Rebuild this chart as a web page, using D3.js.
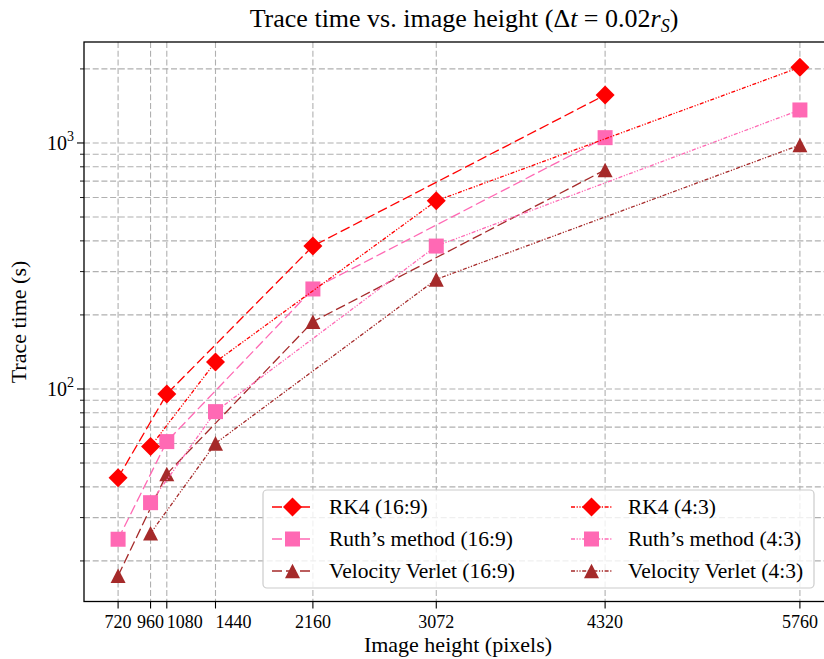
<!DOCTYPE html>
<html>
<head>
<meta charset="utf-8">
<script src="https://cdn.jsdelivr.net/npm/d3@7"></script>
<style>
  body { margin: 0; background: #fff; }
  svg { display: block; }
  text { font-family: "Liberation Serif", "DejaVu Serif", serif; fill: #000; }
</style>
</head>
<body>
<div id="chart"></div>
<script>
// image heights for the two aspect ratios
var heights169 = [720, 1080, 2160, 4320];
var heights43 = [960, 1440, 3072, 5760];

// trace times in seconds
var rk4_169 = [43.6, 95.4, 381, 1567];
var rk4_43 = [58.3, 128.8, 582, 2031];
var ruth_169 = [24.5, 61.1, 255, 1051];
var ruth_43 = [34.5, 80.9, 381, 1362];
var vv_169 = [17.4, 45.1, 187.7, 777];
var vv_43 = [25.9, 60.1, 279, 981];

// ticks
var xTicks = [720, 960, 1080, 1440, 2160, 3072, 4320, 5760];
var xTickAnchor = ["middle", "middle", "start", "start", "middle", "middle", "middle", "middle"];
var yMajor = [100, 1000];
var yMinor = [20, 30, 40, 50, 60, 70, 80, 90, 200, 300, 400, 500, 600, 700, 800, 900, 2000];

var series = [
    { name: "RK4 (16:9)", x: heights169, y: rk4_169, color: "#ff0000", marker: "diamond", dash: "10,4" },
    { name: "Ruth\u2019s method (16:9)", x: heights169, y: ruth_169, color: "#ff69b4", marker: "square", dash: "10,4" },
    { name: "Velocity Verlet (16:9)", x: heights169, y: vv_169, color: "#a52a2a", marker: "triangle", dash: "10,4" },
    { name: "RK4 (4:3)", x: heights43, y: rk4_43, color: "#ff0000", marker: "diamond", dash: "4,1.6,1.2,1.6,1.2,1.6" },
    { name: "Ruth\u2019s method (4:3)", x: heights43, y: ruth_43, color: "#ff69b4", marker: "square", dash: "4,1.6,1.2,1.6,1.2,1.6" },
    { name: "Velocity Verlet (4:3)", x: heights43, y: vv_43, color: "#a52a2a", marker: "triangle", dash: "4,1.6,1.2,1.6,1.2,1.6" }
];

// marker shapes (matplotlib-like D, s, ^)
function markerPath(kind) {
    if (kind === "diamond") return "M0,-9.5L9.5,0L0,9.5L-9.5,0Z";
    if (kind === "square") return "M-7.5,-7.5H7.5V7.5H-7.5Z";
    return "M0,-7.3L7.5,7.3L-7.5,7.3Z";
}

var svg = d3.select("#chart").append("svg").attr("width", 824).attr("height", 659);

var margin = { left: 84, top: 42, right: -10, bottom: 57.5 };
var width = 824 - margin.left - margin.right;
var height = 659 - margin.top - margin.bottom;

var chart = svg.append("g").attr("transform", "translate(" + margin.left + "," + margin.top + ")");

// scales (matplotlib default 5% margins)
var x = d3.scaleLinear().domain([468, 6012]).range([0, width]);
var y = d3.scaleLog().domain([13.68, 2573]).range([height, 0]);

// grid
var gridColor = "#b0b0b0";
chart.append("g").selectAll("line")
    .data(yMajor.concat(yMinor))
    .enter().append("line")
    .attr("x1", 0).attr("x2", width)
    .attr("y1", d => y(d)).attr("y2", d => y(d))
    .attr("stroke", gridColor).attr("stroke-width", 1.1).attr("stroke-dasharray", "6,2.7");

chart.append("g").selectAll("line")
    .data(xTicks)
    .enter().append("line")
    .attr("x1", d => x(d)).attr("x2", d => x(d))
    .attr("y1", 0).attr("y2", height)
    .attr("stroke", gridColor).attr("stroke-width", 1.1).attr("stroke-dasharray", "6,2.7");

// lines and markers
var line = d3.line().x(d => x(d[0])).y(d => y(d[1]));

series.forEach(function (s) {
    var pts = s.x.map((v, i) => [v, s.y[i]]);
    chart.append("path")
        .datum(pts)
        .attr("d", line)
        .attr("fill", "none")
        .attr("stroke", s.color)
        .attr("stroke-width", 1.3)
        .attr("stroke-dasharray", s.dash);
    chart.append("g").selectAll("path")
        .data(pts)
        .enter().append("path")
        .attr("d", markerPath(s.marker))
        .attr("transform", d => "translate(" + x(d[0]) + "," + y(d[1]) + ")")
        .attr("fill", s.color);
});

// axes
var xAxis = chart.append("g").attr("transform", "translate(0," + height + ")");
xAxis.selectAll("line.tick")
    .data(xTicks)
    .enter().append("line")
    .attr("x1", d => x(d)).attr("x2", d => x(d))
    .attr("y1", 0).attr("y2", 7)
    .attr("stroke", "#000").attr("stroke-width", 1.1);
// 1080 and 1440 are set flush left so they do not run into 960
xAxis.selectAll("text")
    .data(xTicks)
    .enter().append("text")
    .attr("x", d => x(d)).attr("y", 26)
    .attr("text-anchor", (d, i) => xTickAnchor[i])
    .attr("font-size", 18)
    .text(d => d);

var yAxis = chart.append("g");
yAxis.selectAll("line.major")
    .data(yMajor)
    .enter().append("line")
    .attr("x1", -7).attr("x2", 0)
    .attr("y1", d => y(d)).attr("y2", d => y(d))
    .attr("stroke", "#000").attr("stroke-width", 1.1);
yAxis.selectAll("line.minor")
    .data(yMinor)
    .enter().append("line")
    .attr("x1", -4).attr("x2", 0)
    .attr("y1", d => y(d)).attr("y2", d => y(d))
    .attr("stroke", "#000").attr("stroke-width", 0.9);
var yLab = yAxis.selectAll("text")
    .data(yMajor)
    .enter().append("text")
    .attr("x", -10).attr("y", d => y(d) + 7)
    .attr("text-anchor", "end")
    .attr("font-size", 20);
yLab.append("tspan").text("10");
yLab.append("tspan").attr("dy", -9).attr("font-size", 14).text(d => Math.round(Math.log10(d)));

// frame (right side falls outside the picture)
chart.append("rect")
    .attr("x", 0).attr("y", 0).attr("width", width).attr("height", height)
    .attr("fill", "none").attr("stroke", "#000").attr("stroke-width", 1.3);

// labels
svg.append("text")
    .attr("x", 458).attr("y", 652)
    .attr("text-anchor", "middle").attr("font-size", 22)
    .text("Image height (pixels)");

svg.append("text")
    .attr("transform", "translate(26,322) rotate(-90)")
    .attr("text-anchor", "middle").attr("font-size", 22)
    .text("Trace time (s)");

var title = svg.append("text")
    .attr("x", 464).attr("y", 27)
    .attr("text-anchor", "middle").attr("font-size", 26);
title.append("tspan").text("Trace time vs. image height (\u0394");
title.append("tspan").attr("font-style", "italic").text("t");
title.append("tspan").text(" = 0.02");
title.append("tspan").attr("font-style", "italic").text("r");
title.append("tspan").attr("font-style", "italic").attr("font-size", 18).attr("dy", 5).text("S");
title.append("tspan").attr("dy", -5).text(")");

// legend, filled column by column
var legend = svg.append("g");
legend.append("rect")
    .attr("x", 263).attr("y", 490).attr("width", 551).attr("height", 98)
    .attr("rx", 4)
    .attr("fill", "#fff").attr("fill-opacity", 0.8)
    .attr("stroke", "#cccccc").attr("stroke-width", 1.2);

series.forEach(function (s, i) {
    var col = Math.floor(i / 3), row = i % 3;
    var hx = col === 0 ? 272 : 571;
    var ly = 507 + row * 32;
    legend.append("line")
        .attr("x1", hx).attr("x2", hx + 41)
        .attr("y1", ly).attr("y2", ly)
        .attr("stroke", s.color).attr("stroke-width", 1.3)
        .attr("stroke-dasharray", s.dash);
    legend.append("path")
        .attr("d", markerPath(s.marker))
        .attr("transform", "translate(" + (hx + 20.5) + "," + ly + ")")
        .attr("fill", s.color);
    legend.append("text")
        .attr("x", hx + 57).attr("y", ly + 7)
        .attr("font-size", 21.5)
        .text(s.name);
});
</script>
</body>
</html>
